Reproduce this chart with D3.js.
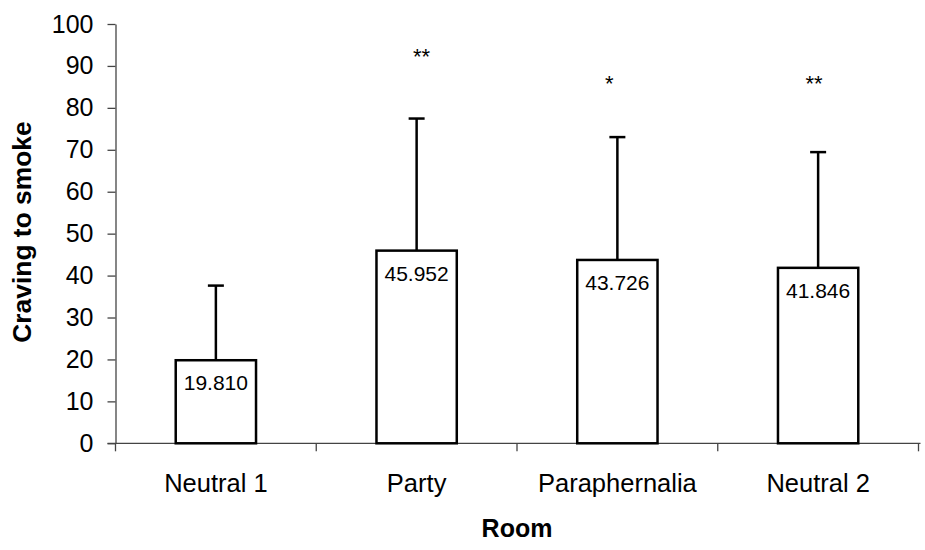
<!DOCTYPE html>
<html>
<head>
<meta charset="utf-8">
<script src="https://cdn.jsdelivr.net/npm/d3@7"></script>
<style>
  body { margin: 0; background: #fff; }
  text { font-family: "Liberation Sans", Arial, sans-serif; fill: #000; }
</style>
</head>
<body>
<div id="vis"></div>
<script>
// room categories and mean craving (+ SD for the error bars)
var rooms = ["Neutral 1", "Party", "Paraphernalia", "Neutral 2"];
var means = [19.810, 45.952, 43.726, 41.846];
var sds = [17.8, 31.5, 29.3, 27.6];
// significance marks and the height (in axis units) where they sit
var stars = ["", "**", "*", "**"];
var starLevel = [0, 93.3, 87, 87];
var yTicks = [0, 10, 20, 30, 40, 50, 60, 70, 80, 90, 100];

var width = 925, height = 550;
var plotL = 115.5, plotR = 918.5, plotT = 24, plotB = 443.3;
// the stars are not quite centred over their bars in the original
var starNudge = [0, 5, -8, -4];

var svg = d3.select('#vis').append('svg')
  .attr('width', width)
  .attr('height', height);

var x = d3.scaleBand()
  .domain(rooms)
  .range([plotL, plotR])
  .paddingInner(0)
  .paddingOuter(0);

var y = d3.scaleLinear()
  .domain([0, 100])
  .range([plotB, plotT]);

var barW = x.bandwidth() * 0.4;

// y axis
var yAxis = svg.append('g')
  .attr('transform', 'translate(' + plotL + ',0)')
  .call(d3.axisLeft(y).tickValues(yTicks).tickSize(8).tickPadding(14).tickSizeOuter(0));
yAxis.select('.domain').attr('stroke', '#444').attr('stroke-width', 1.3);
yAxis.selectAll('.tick line').attr('stroke', '#444').attr('stroke-width', 1.3);
yAxis.selectAll('.tick text')
  .style('font-size', '25px')
  .attr('font-family', '"Liberation Sans", Arial, sans-serif');

// x axis, ticks at the band edges
var xAxis = svg.append('g')
  .attr('transform', 'translate(0,' + plotB + ')');
xAxis.append('line')
  .attr('x1', plotL - 8).attr('x2', plotR + 2)
  .attr('stroke', '#444').attr('stroke-width', 1.3);
var edges = rooms.map(function(d) { return x(d); }).concat([plotR]);
xAxis.selectAll('.edge')
  .data(edges)
  .enter().append('line')
  .attr('class', 'edge')
  .attr('x1', function(d) { return d; })
  .attr('x2', function(d) { return d; })
  .attr('y1', 0).attr('y2', 8)
  .attr('stroke', '#444').attr('stroke-width', 1.3);
xAxis.selectAll('.cat')
  .data(rooms)
  .enter().append('text')
  .attr('class', 'cat')
  .attr('x', function(d) { return x(d) + x.bandwidth() / 2; })
  .attr('y', 49)
  .attr('text-anchor', 'middle')
  .style('font-size', '25.5px')
  .text(function(d) { return d; });

// error bars (upper only) drawn first so the bar outline sits over them
var errs = svg.selectAll('.err')
  .data(rooms)
  .enter().append('g')
  .attr('class', 'err');
errs.append('line')
  .attr('x1', function(d) { return x(d) + x.bandwidth() / 2; })
  .attr('x2', function(d) { return x(d) + x.bandwidth() / 2; })
  .attr('y1', function(d, i) { return y(means[i]); })
  .attr('y2', function(d, i) { return y(means[i] + sds[i]); })
  .attr('stroke', '#000').attr('stroke-width', 2.5);
errs.append('line')
  .attr('x1', function(d) { return x(d) + x.bandwidth() / 2 - 8; })
  .attr('x2', function(d) { return x(d) + x.bandwidth() / 2 + 8; })
  .attr('y1', function(d, i) { return y(means[i] + sds[i]); })
  .attr('y2', function(d, i) { return y(means[i] + sds[i]); })
  .attr('stroke', '#000').attr('stroke-width', 2.5);

// bars
svg.selectAll('.bar')
  .data(rooms)
  .enter().append('rect')
  .attr('class', 'bar')
  .attr('x', function(d) { return x(d) + (x.bandwidth() - barW) / 2; })
  .attr('y', function(d, i) { return y(means[i]); })
  .attr('width', barW)
  .attr('height', function(d, i) { return y(0) - y(means[i]); })
  .attr('fill', '#fff')
  .attr('stroke', '#000')
  .attr('stroke-width', 2.5);

// value labels inside the bars
svg.selectAll('.val')
  .data(rooms)
  .enter().append('text')
  .attr('class', 'val')
  .attr('x', function(d) { return x(d) + x.bandwidth() / 2; })
  .attr('y', function(d, i) { return y(means[i]) + 30; })
  .attr('text-anchor', 'middle')
  .style('font-size', '21px')
  .text(function(d, i) { return means[i].toFixed(3); });

// significance stars
svg.selectAll('.star')
  .data(rooms)
  .enter().append('text')
  .attr('class', 'star')
  .attr('x', function(d, i) { return x(d) + x.bandwidth() / 2 + starNudge[i]; })
  .attr('y', function(d, i) { return y(starLevel[i]) + 12; })
  .attr('text-anchor', 'middle')
  .style('font-size', '22px')
  .text(function(d, i) { return stars[i]; });

// axis titles
svg.append('text')
  .attr('transform', 'translate(31,' + 232 + ') rotate(-90)')
  .attr('text-anchor', 'middle')
  .style('font-size', '26.4px')
  .style('font-weight', 'bold')
  .text('Craving to smoke');

svg.append('text')
  .attr('x', (plotL + plotR) / 2)
  .attr('y', 537)
  .attr('text-anchor', 'middle')
  .style('font-size', '25px')
  .style('font-weight', 'bold')
  .text('Room');
</script>
</body>
</html>
